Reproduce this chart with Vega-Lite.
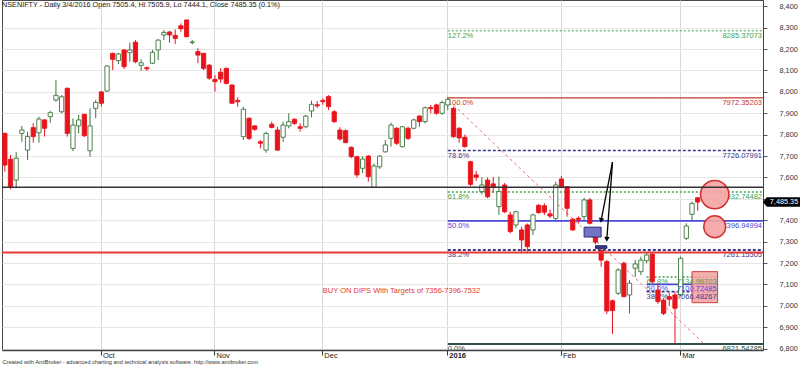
{
"$schema": "https://vega.github.io/schema/vega-lite/v6.json",
"width": 761, "height": 350,
"autosize": {"type": "none"},
"padding": {"left": 2, "top": 0, "right": 37, "bottom": 17},
"background": "white",
"config": {"view": {"stroke": "#4a4a4a", "strokeWidth": 1}, "font": "Liberation Sans", "text": {"font": "Liberation Sans"}, "axis": {"labelOverlap": false}, "axisY": {"labelOverlap": false, "labelSeparation": 0}},
"datasets": {
"candles": [
{"date":"2015-09-04","o":7806,"h":7810,"l":7627,"c":7658},
{"date":"2015-09-07","o":7685,"h":7705,"l":7545,"c":7557},
{"date":"2015-09-08","o":7588,"h":7718,"l":7550,"c":7690},
{"date":"2015-09-09","o":7806,"h":7841,"l":7767,"c":7822},
{"date":"2015-09-10","o":7728,"h":7814,"l":7682,"c":7791},
{"date":"2015-09-11","o":7833,"h":7855,"l":7763,"c":7791},
{"date":"2015-09-14","o":7809,"h":7884,"l":7763,"c":7873},
{"date":"2015-09-15","o":7869,"h":7872,"l":7791,"c":7830},
{"date":"2015-09-16","o":7884,"h":7912,"l":7856,"c":7903},
{"date":"2015-09-18","o":7962,"h":8056,"l":7954,"c":7984},
{"date":"2015-09-21","o":7907,"h":7985,"l":7900,"c":7977},
{"date":"2015-09-22","o":8017,"h":8020,"l":7791,"c":7806},
{"date":"2015-09-23","o":7736,"h":7876,"l":7724,"c":7845},
{"date":"2015-09-24","o":7841,"h":7892,"l":7806,"c":7869},
{"date":"2015-09-28","o":7895,"h":7898,"l":7789,"c":7795},
{"date":"2015-09-29","o":7725,"h":7923,"l":7697,"c":7841},
{"date":"2015-09-30","o":7923,"h":7962,"l":7877,"c":7950},
{"date":"2015-10-01","o":8000,"h":8004,"l":7931,"c":7947},
{"date":"2015-10-05","o":8004,"h":8124,"l":8000,"c":8121},
{"date":"2015-10-06","o":8180,"h":8183,"l":8102,"c":8152},
{"date":"2015-10-07","o":8146,"h":8182,"l":8130,"c":8177},
{"date":"2015-10-08","o":8196,"h":8200,"l":8107,"c":8118},
{"date":"2015-10-09","o":8183,"h":8230,"l":8141,"c":8196},
{"date":"2015-10-12","o":8232,"h":8242,"l":8134,"c":8141},
{"date":"2015-10-13","o":8124,"h":8152,"l":8098,"c":8136},
{"date":"2015-10-14","o":8113,"h":8118,"l":8098,"c":8108},
{"date":"2015-10-15","o":8134,"h":8196,"l":8130,"c":8185},
{"date":"2015-10-16","o":8196,"h":8246,"l":8149,"c":8242},
{"date":"2015-10-19","o":8266,"h":8289,"l":8242,"c":8278},
{"date":"2015-10-20","o":8280,"h":8285,"l":8230,"c":8266},
{"date":"2015-10-21","o":8264,"h":8292,"l":8224,"c":8250},
{"date":"2015-10-23","o":8309,"h":8320,"l":8281,"c":8295},
{"date":"2015-10-26","o":8336,"h":8338,"l":8255,"c":8258},
{"date":"2015-10-27","o":8231,"h":8242,"l":8222,"c":8233},
{"date":"2015-10-28","o":8188,"h":8204,"l":8134,"c":8172},
{"date":"2015-10-29","o":8180,"h":8183,"l":8102,"c":8110},
{"date":"2015-10-30","o":8125,"h":8130,"l":8056,"c":8064},
{"date":"2015-11-02","o":8058,"h":8079,"l":8001,"c":8048},
{"date":"2015-11-03","o":8092,"h":8112,"l":8042,"c":8060},
{"date":"2015-11-04","o":8110,"h":8114,"l":8035,"c":8040},
{"date":"2015-11-05","o":8032,"h":8036,"l":7943,"c":7947},
{"date":"2015-11-06","o":7960,"h":7975,"l":7931,"c":7954},
{"date":"2015-11-09","o":7791,"h":7931,"l":7775,"c":7919},
{"date":"2015-11-10","o":7877,"h":7880,"l":7775,"c":7783},
{"date":"2015-11-11","o":7841,"h":7845,"l":7818,"c":7825},
{"date":"2015-11-13","o":7767,"h":7775,"l":7736,"c":7760},
{"date":"2015-11-16","o":7728,"h":7814,"l":7716,"c":7806},
{"date":"2015-11-17","o":7849,"h":7861,"l":7830,"c":7834},
{"date":"2015-11-18","o":7822,"h":7837,"l":7724,"c":7728},
{"date":"2015-11-19","o":7788,"h":7861,"l":7767,"c":7845},
{"date":"2015-11-20","o":7841,"h":7900,"l":7830,"c":7861},
{"date":"2015-11-23","o":7872,"h":7876,"l":7846,"c":7853},
{"date":"2015-11-24","o":7837,"h":7853,"l":7814,"c":7830},
{"date":"2015-11-26","o":7837,"h":7892,"l":7830,"c":7887},
{"date":"2015-11-27","o":7911,"h":7959,"l":7881,"c":7942},
{"date":"2015-11-30","o":7940,"h":7957,"l":7925,"c":7935},
{"date":"2015-12-01","o":7960,"h":7970,"l":7940,"c":7955},
{"date":"2015-12-02","o":7978,"h":7985,"l":7915,"c":7931},
{"date":"2015-12-03","o":7907,"h":7915,"l":7855,"c":7861},
{"date":"2015-12-04","o":7822,"h":7835,"l":7772,"c":7780},
{"date":"2015-12-07","o":7819,"h":7825,"l":7760,"c":7763},
{"date":"2015-12-08","o":7741,"h":7745,"l":7690,"c":7697},
{"date":"2015-12-09","o":7697,"h":7702,"l":7600,"c":7612},
{"date":"2015-12-10","o":7643,"h":7700,"l":7620,"c":7686},
{"date":"2015-12-11","o":7700,"h":7705,"l":7580,"c":7604},
{"date":"2015-12-14","o":7554,"h":7666,"l":7550,"c":7654},
{"date":"2015-12-15","o":7650,"h":7705,"l":7640,"c":7700},
{"date":"2015-12-16","o":7720,"h":7775,"l":7716,"c":7752},
{"date":"2015-12-17","o":7783,"h":7856,"l":7744,"c":7845},
{"date":"2015-12-18","o":7830,"h":7835,"l":7752,"c":7760},
{"date":"2015-12-21","o":7744,"h":7840,"l":7740,"c":7837},
{"date":"2015-12-22","o":7830,"h":7838,"l":7775,"c":7783},
{"date":"2015-12-23","o":7830,"h":7875,"l":7825,"c":7869},
{"date":"2015-12-24","o":7887,"h":7892,"l":7837,"c":7861},
{"date":"2015-12-28","o":7861,"h":7931,"l":7853,"c":7926},
{"date":"2015-12-29","o":7927,"h":7939,"l":7900,"c":7922},
{"date":"2015-12-30","o":7939,"h":7945,"l":7893,"c":7900},
{"date":"2015-12-31","o":7900,"h":7959,"l":7893,"c":7950},
{"date":"2016-01-01","o":7939,"h":7977,"l":7915,"c":7965},
{"date":"2016-01-04","o":7923,"h":7930,"l":7785,"c":7791},
{"date":"2016-01-05","o":7830,"h":7835,"l":7763,"c":7785},
{"date":"2016-01-06","o":7788,"h":7800,"l":7740,"c":7744},
{"date":"2016-01-07","o":7674,"h":7678,"l":7560,"c":7568},
{"date":"2016-01-08","o":7612,"h":7630,"l":7584,"c":7601},
{"date":"2016-01-11","o":7534,"h":7601,"l":7521,"c":7565},
{"date":"2016-01-12","o":7588,"h":7600,"l":7503,"c":7510},
{"date":"2016-01-13","o":7570,"h":7603,"l":7530,"c":7556},
{"date":"2016-01-14","o":7464,"h":7604,"l":7425,"c":7534},
{"date":"2016-01-15","o":7565,"h":7574,"l":7434,"c":7440},
{"date":"2016-01-18","o":7425,"h":7440,"l":7339,"c":7347},
{"date":"2016-01-19","o":7378,"h":7445,"l":7363,"c":7440},
{"date":"2016-01-20","o":7355,"h":7370,"l":7245,"c":7308},
{"date":"2016-01-21","o":7378,"h":7385,"l":7246,"c":7277},
{"date":"2016-01-22","o":7355,"h":7430,"l":7331,"c":7425},
{"date":"2016-01-25","o":7470,"h":7476,"l":7430,"c":7436},
{"date":"2016-01-27","o":7468,"h":7480,"l":7425,"c":7438},
{"date":"2016-01-28","o":7430,"h":7450,"l":7410,"c":7420},
{"date":"2016-01-29","o":7409,"h":7580,"l":7400,"c":7565},
{"date":"2016-02-01","o":7593,"h":7607,"l":7550,"c":7554},
{"date":"2016-02-02","o":7557,"h":7560,"l":7417,"c":7456},
{"date":"2016-02-03","o":7405,"h":7410,"l":7350,"c":7355},
{"date":"2016-02-04","o":7410,"h":7418,"l":7385,"c":7404},
{"date":"2016-02-05","o":7417,"h":7505,"l":7400,"c":7495},
{"date":"2016-02-08","o":7495,"h":7504,"l":7380,"c":7386},
{"date":"2016-02-09","o":7330,"h":7360,"l":7287,"c":7298},
{"date":"2016-02-10","o":7258,"h":7270,"l":7183,"c":7214},
{"date":"2016-02-11","o":7207,"h":7215,"l":6962,"c":6976},
{"date":"2016-02-12","o":7024,"h":7030,"l":6869,"c":6978},
{"date":"2016-02-15","o":7059,"h":7176,"l":7051,"c":7168},
{"date":"2016-02-16","o":7199,"h":7207,"l":7042,"c":7043},
{"date":"2016-02-17","o":7051,"h":7121,"l":6965,"c":7106},
{"date":"2016-02-18","o":7176,"h":7214,"l":7136,"c":7196},
{"date":"2016-02-19","o":7160,"h":7230,"l":7144,"c":7214},
{"date":"2016-02-22","o":7211,"h":7248,"l":7199,"c":7238},
{"date":"2016-02-23","o":7242,"h":7248,"l":7105,"c":7113},
{"date":"2016-02-24","o":7074,"h":7107,"l":7010,"c":7020},
{"date":"2016-02-25","o":7027,"h":7035,"l":6957,"c":6965},
{"date":"2016-02-26","o":7043,"h":7060,"l":7000,"c":7031},
{"date":"2016-02-29","o":7051,"h":7066,"l":6825,"c":6989},
{"date":"2016-03-01","o":7051,"h":7230,"l":7045,"c":7222},
{"date":"2016-03-02","o":7316,"h":7386,"l":7308,"c":7373},
{"date":"2016-03-03","o":7428,"h":7487,"l":7401,"c":7479},
{"date":"2016-03-04","o":7505.4,"h":7505.9,"l":7444.1,"c":7485.35}
],
"fib": [
{"set":"main","pct":"127.2%","level":8285.37073,"date":"2016-01-01","date2":"2016-03-22"},
{"set":"main","pct":"100.0%","level":7972.35203,"date":"2016-01-01","date2":"2016-03-22"},
{"set":"main","pct":"78.6%","level":7726.07991,"date":"2016-01-01","date2":"2016-03-22"},
{"set":"main","pct":"61.8%","level":7532.74482,"date":"2016-01-01","date2":"2016-03-22"},
{"set":"main","pct":"50.0%","level":7396.94994,"date":"2016-01-01","date2":"2016-03-22"},
{"set":"main","pct":"38.2%","level":7261.15505,"date":"2016-01-01","date2":"2016-03-22"},
{"set":"main","pct":"0.0%","level":6821.54785,"date":"2016-01-01","date2":"2016-03-22"},
{"set":"second","pct":"61.8%","level":7134.96703,"date":"2016-02-22","date2":"2016-03-10"},
{"set":"second","pct":"50.0%","level":7100.72485,"date":"2016-02-22","date2":"2016-03-10"},
{"set":"second","pct":"38.2%","level":7066.48267,"date":"2016-02-22","date2":"2016-03-10"}
],
"lines": [
{"kind":"support","level":7554},
{"kind":"resistance","level":7249}
],
"trend": [
{"date":"2016-01-04","price":7939},
{"date":"2016-03-08","price":6826}
],
"circles": [
{"kind":"big","date":"2016-03-10","price":7520},
{"kind":"small","date":"2016-03-10","price":7370}
],
"boxes": [
{"kind":"target","date":"2016-03-03","date2":"2016-03-10","p1":7160,"p2":7015},
{"kind":"zone","date":"2016-02-05","date2":"2016-02-10","p1":7368,"p2":7322},
{"kind":"bar","date":"2016-02-09","date2":"2016-02-11","p1":7281,"p2":7269}
],
"arrows": [
{"arrow":"a","pt":"start","date":"2016-02-12","price":7672},
{"arrow":"a","pt":"end","date":"2016-02-10","price":7400},
{"arrow":"b","pt":"start","date":"2016-02-12","price":7672},
{"arrow":"b","pt":"end","date":"2016-02-11","price":7311}
],
"notes": [
{"kind":"title","date":"2015-09-04","price":8406,"note":"NSENIFTY - Daily 3/4/2016 Open 7505.4, Hi 7505.9, Lo 7444.1, Close 7485.35 (0.1%)"},
{"kind":"buy","date":"2015-12-01","price":7070,"note":"BUY ON DIPS With Targets of 7356-7396-7532"}
]
},
"layer": [
{"data":{"name":"candles"},"mark":{"type":"rule","strokeWidth":1,"opacity":0},
 "encoding":{
  "x":{"field":"date","type":"ordinal",
   "scale":{"type":"band","paddingInner":0,"paddingOuter":0,"domain":["2015-09-04","2015-09-07","2015-09-08","2015-09-09","2015-09-10","2015-09-11","2015-09-14","2015-09-15","2015-09-16","2015-09-18","2015-09-21","2015-09-22","2015-09-23","2015-09-24","2015-09-28","2015-09-29","2015-09-30","2015-10-01","2015-10-05","2015-10-06","2015-10-07","2015-10-08","2015-10-09","2015-10-12","2015-10-13","2015-10-14","2015-10-15","2015-10-16","2015-10-19","2015-10-20","2015-10-21","2015-10-23","2015-10-26","2015-10-27","2015-10-28","2015-10-29","2015-10-30","2015-11-02","2015-11-03","2015-11-04","2015-11-05","2015-11-06","2015-11-09","2015-11-10","2015-11-11","2015-11-13","2015-11-16","2015-11-17","2015-11-18","2015-11-19","2015-11-20","2015-11-23","2015-11-24","2015-11-26","2015-11-27","2015-11-30","2015-12-01","2015-12-02","2015-12-03","2015-12-04","2015-12-07","2015-12-08","2015-12-09","2015-12-10","2015-12-11","2015-12-14","2015-12-15","2015-12-16","2015-12-17","2015-12-18","2015-12-21","2015-12-22","2015-12-23","2015-12-24","2015-12-28","2015-12-29","2015-12-30","2015-12-31","2016-01-01","2016-01-04","2016-01-05","2016-01-06","2016-01-07","2016-01-08","2016-01-11","2016-01-12","2016-01-13","2016-01-14","2016-01-15","2016-01-18","2016-01-19","2016-01-20","2016-01-21","2016-01-22","2016-01-25","2016-01-27","2016-01-28","2016-01-29","2016-02-01","2016-02-02","2016-02-03","2016-02-04","2016-02-05","2016-02-08","2016-02-09","2016-02-10","2016-02-11","2016-02-12","2016-02-15","2016-02-16","2016-02-17","2016-02-18","2016-02-19","2016-02-22","2016-02-23","2016-02-24","2016-02-25","2016-02-26","2016-02-29","2016-03-01","2016-03-02","2016-03-03","2016-03-04","2016-03-08","2016-03-09","2016-03-10","2016-03-11","2016-03-14","2016-03-15","2016-03-16","2016-03-17","2016-03-18","2016-03-21","2016-03-22"]},
   "axis":{
    "values":["2015-10-01","2015-11-02","2015-12-01","2016-01-01","2016-02-01","2016-03-01"],
    "labelExpr":"datum.value == '2015-10-01' ? 'Oct' : datum.value == '2015-11-02' ? 'Nov' : datum.value == '2015-12-01' ? 'Dec' : datum.value == '2016-01-01' ? '2016' : datum.value == '2016-02-01' ? 'Feb' : 'Mar'",
    "bandPosition":0.5,"labelAngle":0,"labelAlign":"left","labelBaseline":"top","labelPadding":-3.5,"labelOffset":1.5,
    "labelFontSize":7.5,"labelColor":"#222","labelFont":"Liberation Sans","labelOverlap":false,
    "labelFontWeight":{"condition":{"test":"datum.value == '2016-01-01'","value":"bold"},"value":"normal"},
    "tickSize":5,"tickColor":"#333","tickWidth":1,
    "domainColor":"#444","domainWidth":1.5,
    "grid":true,"gridColor":"#d9d9d9","gridWidth":1,
    "title":"Created with AmiBroker - advanced charting and technical analysis software. http://www.amibroker.com",
    "titleAnchor":"start","titleFontSize":5.6,"titleFontWeight":"normal","titleColor":"#333","titlePadding":0,"titleFont":"Liberation Sans"
   }},
  "y":{"field":"l","type":"quantitative",
   "scale":{"domain":[6793.9,8429.4],"nice":false,"zero":false},
   "axis":{"orient":"right","values":[6800,6900,7000,7100,7200,7300,7400,7500,7600,7700,7800,7900,8000,8100,8200,8300,8400],"tickCount":17,
    "labelExpr":"datum.value == 7500 ? '' : format(datum.value, ',')","labelOverlap":false,"labelFlush":false,"labelSeparation":0,
    "grid":true,"gridColor":"#e6e6e6","tickSize":4,"tickColor":"#555","domainColor":"#444","domainWidth":1,
    "labelPadding":12,"labelAlign":"left","labelBaseline":"middle","labelFontSize":7.3,"labelColor":"#333","labelFont":"Liberation Sans","title":null}},
  "y2":{"field":"h"}
 }},
{"data":{"name":"fib"},"mark":{"type":"rule"},
 "encoding":{
  "x":{"field":"date","type":"ordinal","bandPosition":0.5},
  "x2":{"field":"date2","bandPosition":1},
  "y":{"field":"level","type":"quantitative"},
  "color":{"field":"pct","type":"nominal","legend":null,"scale":{"domain":["127.2%","100.0%","78.6%","61.8%","50.0%","38.2%","0.0%"],"range":["#3f9f4a","#c0392b","#3a3a8c","#3f9f4a","#4848dc","#3a3a8c","#2f4f4f"]}},
  "strokeDash":{"field":"pct","type":"nominal","legend":null,"scale":{"domain":["127.2%","100.0%","78.6%","61.8%","50.0%","38.2%","0.0%"],"range":[[2,2],[1,0],[3,2],[2,2],[1,0],[3,2],[1,0]]}},
  "strokeWidth":{"field":"pct","type":"ordinal","legend":null,"scale":{"domain":["127.2%","100.0%","78.6%","61.8%","50.0%","38.2%","0.0%"],"range":[1,2,1,1,1,1,1.5]}}
 }},
{"data":{"name":"fib"},"mark":{"type":"text","align":"left","baseline":"top","dy":1,"fontSize":7.5},
 "encoding":{
  "x":{"field":"date","type":"ordinal","bandPosition":0.5},
  "y":{"field":"level","type":"quantitative"},
  "text":{"field":"pct"},
  "color":{"field":"pct","type":"nominal","legend":null}
 }},
{"data":{"name":"fib"},"transform":[{"filter":"datum.set == 'main'"}],"mark":{"type":"text","align":"right","baseline":"top","dy":1,"dx":-1,"fontSize":7.5},
 "encoding":{
  "x":{"field":"date2","type":"ordinal","bandPosition":1},
  "y":{"field":"level","type":"quantitative"},
  "text":{"field":"level","type":"quantitative","format":".5f"},
  "color":{"field":"pct","type":"nominal","legend":null}
 }},
{"data":{"name":"trend"},"mark":{"type":"line","color":"#e57373","strokeDash":[3,3],"strokeWidth":1},
 "encoding":{
  "x":{"field":"date","type":"ordinal"},
  "y":{"field":"price","type":"quantitative"}
 }},
{"data":{"name":"circles"},"transform":[{"filter":"datum.kind == 'big'"}],"mark":{"type":"point","shape":"circle","filled":true,"size":800,"fill":"#f5a3a3","fillOpacity":0.9,"stroke":"#d32f2f","strokeWidth":1.5,"opacity":1},
 "encoding":{
  "x":{"field":"date","type":"ordinal"},
  "y":{"field":"price","type":"quantitative"}
 }},
{"data":{"name":"circles"},"transform":[{"filter":"datum.kind == 'small'"}],"mark":{"type":"point","shape":"circle","filled":true,"size":480,"fill":"#f5a3a3","fillOpacity":0.9,"stroke":"#d32f2f","strokeWidth":1.5,"opacity":1},
 "encoding":{
  "x":{"field":"date","type":"ordinal"},
  "y":{"field":"price","type":"quantitative"}
 }},
{"data":{"name":"candles"},"mark":{"type":"rule","strokeWidth":1},
 "encoding":{
  "x":{"field":"date","type":"ordinal"},
  "y":{"field":"l","type":"quantitative"},
  "y2":{"field":"h"},
  "color":{"condition":{"test":"datum.c >= datum.o","value":"#3b763b"},"value":"#e8141c"}
 }},
{"data":{"name":"candles"},"mark":{"type":"bar","width":{"band":0.75},"strokeWidth":0.9},
 "encoding":{
  "x":{"field":"date","type":"ordinal"},
  "y":{"field":"o","type":"quantitative"},
  "y2":{"field":"c"},
  "fill":{"condition":{"test":"datum.c >= datum.o","value":"#ffffff"},"value":"#e8141c"},
  "stroke":{"condition":{"test":"datum.c >= datum.o","value":"#3b763b"},"value":"#e8141c"}
 }},
{"data":{"name":"lines"},"transform":[{"filter":"datum.kind == 'support'"}],"mark":{"type":"rule","color":"#333333","strokeWidth":1.5},
 "encoding":{"y":{"field":"level","type":"quantitative"}}},
{"data":{"name":"lines"},"transform":[{"filter":"datum.kind == 'resistance'"}],"mark":{"type":"rule","color":"#e53935","strokeWidth":2},
 "encoding":{"y":{"field":"level","type":"quantitative"}}},
{"data":{"name":"boxes"},"transform":[{"filter":"datum.kind == 'target'"}],"mark":{"type":"rect","fill":"#f3a0a0","fillOpacity":0.85,"stroke":"#d04040","strokeWidth":1},
 "encoding":{
  "x":{"field":"date","type":"ordinal","bandPosition":0.5},
  "x2":{"field":"date2","bandPosition":1},
  "y":{"field":"p1","type":"quantitative"},
  "y2":{"field":"p2"}
 }},
{"data":{"name":"boxes"},"transform":[{"filter":"datum.kind == 'zone'"}],"mark":{"type":"rect","fill":"#7474c4","stroke":"#2b2b7a","strokeWidth":1},
 "encoding":{
  "x":{"field":"date","type":"ordinal","bandPosition":0.5},
  "x2":{"field":"date2","bandPosition":0.5},
  "y":{"field":"p1","type":"quantitative"},
  "y2":{"field":"p2"}
 }},
{"data":{"name":"boxes"},"transform":[{"filter":"datum.kind == 'bar'"}],"mark":{"type":"rect","fill":"#3c3c96","stroke":"#1e1e5a","strokeWidth":1},
 "encoding":{
  "x":{"field":"date","type":"ordinal","bandPosition":0.5},
  "x2":{"field":"date2","bandPosition":0.5},
  "y":{"field":"p1","type":"quantitative"},
  "y2":{"field":"p2"}
 }},
{"data":{"name":"arrows"},"mark":{"type":"line","color":"#000000","strokeWidth":1.3},
 "encoding":{
  "x":{"field":"date","type":"ordinal"},
  "y":{"field":"price","type":"quantitative"},
  "detail":{"field":"arrow"}
 }},
{"data":{"name":"arrows"},"transform":[{"filter":"datum.arrow == 'a' && datum.pt == 'end'"}],"mark":{"type":"point","shape":"triangle-down","filled":true,"size":30,"color":"#000000","angle":9,"opacity":1},
 "encoding":{
  "x":{"field":"date","type":"ordinal"},
  "y":{"field":"price","type":"quantitative"}
 }},
{"data":{"name":"arrows"},"transform":[{"filter":"datum.arrow == 'b' && datum.pt == 'end'"}],"mark":{"type":"point","shape":"triangle-down","filled":true,"size":30,"color":"#000000","angle":3,"opacity":1},
 "encoding":{
  "x":{"field":"date","type":"ordinal"},
  "y":{"field":"price","type":"quantitative"}
 }},
{"data":{"name":"fib"},"transform":[{"filter":"datum.set == 'second'"}],"mark":{"type":"text","align":"right","baseline":"top","dy":1,"dx":-1,"fontSize":7.5},
 "encoding":{
  "x":{"field":"date2","type":"ordinal","bandPosition":1},
  "y":{"field":"level","type":"quantitative"},
  "text":{"field":"level","type":"quantitative","format":".5f"},
  "color":{"field":"pct","type":"nominal","legend":null}
 }},
{"data":{"name":"notes"},"transform":[{"filter":"datum.kind == 'buy'"}],"mark":{"type":"text","align":"left","baseline":"middle","fontSize":7.5,"color":"#e53935"},
 "encoding":{
  "x":{"field":"date","type":"ordinal","bandPosition":0.5},
  "y":{"field":"price","type":"quantitative"},
  "text":{"field":"note"}
 }},
{"data":{"name":"notes"},"transform":[{"filter":"datum.kind == 'title'"}],"mark":{"type":"text","align":"left","baseline":"middle","fontSize":7.25,"color":"#222222"},
 "encoding":{
  "x":{"field":"date","type":"ordinal","bandPosition":0},
  "y":{"field":"price","type":"quantitative"},
  "text":{"field":"note"}
 }},
{"data":{"name":"candles"},"transform":[{"filter":"datum.date == '2016-03-04'"}],"mark":{"type":"point","shape":"M0,0L0.2,-0.25H2V0.25H0.2Z","filled":true,"size":1444,"color":"#000000","opacity":1},
 "encoding":{
  "x":{"value":"width"},
  "y":{"field":"c","type":"quantitative"}
 }},
{"data":{"name":"candles"},"transform":[{"filter":"datum.date == '2016-03-04'"}],"mark":{"type":"text","align":"center","baseline":"middle","dx":21,"fontSize":7.3,"color":"#ffffff"},
 "encoding":{
  "x":{"value":"width"},
  "y":{"field":"c","type":"quantitative"},
  "text":{"field":"c","type":"quantitative","format":",.2f"}
 }}
]
}
